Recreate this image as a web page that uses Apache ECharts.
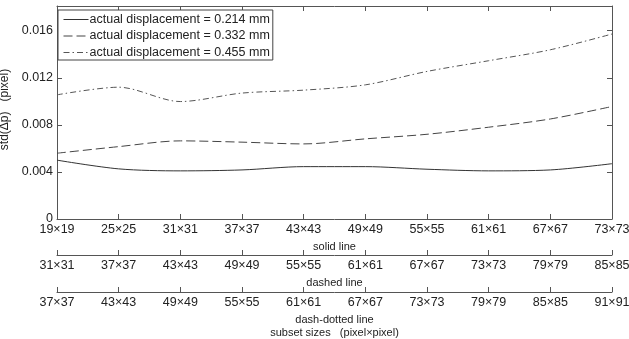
<!DOCTYPE html>
<html>
<head>
<meta charset="utf-8">
<script src="https://cdn.jsdelivr.net/npm/echarts@6/dist/echarts.min.js"></script>
<style>
  html, body { margin: 0; padding: 0; background: #fff; }
  #main { width: 629px; height: 339px; }
</style>
</head>
<body>
<div id="main"></div>
<script>
// subset size labels for the three x axes
const solidSizes = ["19×19", "25×25", "31×31", "37×37", "43×43", "49×49", "55×55", "61×61", "67×67", "73×73"];
const dashedSizes = ["31×31", "37×37", "43×43", "49×49", "55×55", "61×61", "67×67", "73×73", "79×79", "85×85"];
const dashDotSizes = ["37×37", "43×43", "49×49", "55×55", "61×61", "67×67", "73×73", "79×79", "85×85", "91×91"];

// std(Δp) values
const disp214 = [0.0050, 0.00426, 0.00409, 0.00417, 0.00445, 0.00445, 0.00423, 0.00409, 0.00417, 0.0047];
const disp332 = [0.00559, 0.00615, 0.00664, 0.00653, 0.00638, 0.00681, 0.0072, 0.0078, 0.0085, 0.00956];
const disp455 = [0.01055, 0.0112, 0.00998, 0.0107, 0.01095, 0.0114, 0.01254, 0.01345, 0.01438, 0.01572];

const seriesNames = ["actual displacement = 0.214 mm", "actual displacement = 0.332 mm", "actual displacement = 0.455 mm"];

const font = "'Liberation Sans', Arial, sans-serif";
const axisColor = "#555";
const textColor = "#222";

let chartDom = document.getElementById("main");
let myChart = echarts.init(chartDom);

// one bottom axis per subset-size list
function sizeAxis(data, offset, name) {
  return {
    type: "category",
    position: "bottom",
    offset: offset,
    data: data,
    boundaryGap: false,
    name: name,
    nameLocation: "middle",
    nameGap: 17,
    nameTextStyle: { fontFamily: font, fontSize: 11, color: textColor, lineHeight: 13 },
    axisLine: { show: true, onZero: false, lineStyle: { color: axisColor } },
    axisTick: { show: true, inside: true, length: 5, alignWithLabel: true, lineStyle: { color: axisColor } },
    axisLabel: { show: true, margin: 4, fontFamily: font, fontSize: 12.5, color: textColor, interval: 0 },
    splitLine: { show: false },
  };
}

let option = {
  animation: false,
  grid: { left: 57, right: 17, top: 6, bottom: 120, containLabel: false, outerBoundsMode: "none" },
  legend: {
    orient: "vertical",
    left: 58,
    top: 10,
    padding: [3, 3, 1, 5],
    itemWidth: 25,
    itemHeight: 14,
    itemGap: 3.5,
    borderColor: "#444",
    borderWidth: 1,
    backgroundColor: "#fff",
    itemStyle: { opacity: 0 },
    lineStyle: { width: 1 },
    textStyle: { fontFamily: font, fontSize: 12.5, color: textColor, padding: [0, 0, 0, -4] },
    data: seriesNames,
  },
  xAxis: [
    sizeAxis(solidSizes, 0, "solid line"),
    sizeAxis(dashedSizes, 36, "dashed line"),
    sizeAxis(dashDotSizes, 73, "dash-dotted line\nsubset sizes   (pixel×pixel)"),
    {
      type: "category",
      position: "top",
      data: solidSizes,
      boundaryGap: false,
      axisLine: { show: true, onZero: false, lineStyle: { color: axisColor } },
      axisTick: { show: true, inside: true, length: 5, lineStyle: { color: axisColor } },
      axisLabel: { show: false },
    },
  ],
  yAxis: [
    {
      type: "value",
      min: 0,
      max: 0.0181,
      interval: 0.004,
      name: "std(Δp)   (pixel)",
      nameLocation: "middle",
      nameGap: 39,
      nameTextStyle: { fontFamily: font, fontSize: 12, color: textColor, padding: [0, 0, 0, 6] },
      axisLine: { show: true, lineStyle: { color: axisColor } },
      axisTick: { show: true, inside: true, length: 5, lineStyle: { color: axisColor } },
      axisLabel: {
        margin: 4,
        fontFamily: font,
        fontSize: 12.5,
        color: textColor,
        showMaxLabel: false,
        formatter: (v) => (v === 0 ? "0" : v.toFixed(3)),
      },
      splitLine: { show: false },
    },
    {
      type: "value",
      position: "right",
      min: 0,
      max: 0.0181,
      interval: 0.004,
      axisLine: { show: true, lineStyle: { color: axisColor } },
      axisTick: { show: true, inside: true, length: 5, lineStyle: { color: axisColor } },
      axisLabel: { show: false },
      splitLine: { show: false },
    },
  ],
  series: [
    {
      name: seriesNames[0],
      type: "line",
      data: disp214,
      smooth: 0.3,
      symbol: "none",
      lineStyle: { color: "#333", width: 1, type: "solid" },
      itemStyle: { color: "#333" },
    },
    {
      name: seriesNames[1],
      type: "line",
      data: disp332,
      smooth: 0.3,
      symbol: "none",
      lineStyle: { color: "#444", width: 1, type: [9, 4] },
      itemStyle: { color: "#444" },
    },
    {
      name: seriesNames[2],
      type: "line",
      data: disp455,
      smooth: 0.3,
      symbol: "none",
      lineStyle: { color: "#555", width: 1, type: [6, 3, 1.5, 3] },
      itemStyle: { color: "#555" },
    },
  ],
};

option && myChart.setOption(option);
</script>
</body>
</html>
